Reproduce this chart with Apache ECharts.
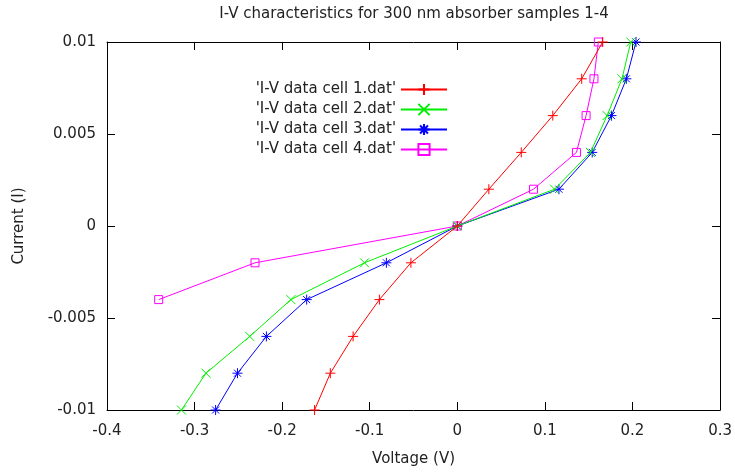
<!DOCTYPE html>
<html><head><meta charset="utf-8">
<script src="https://cdn.jsdelivr.net/npm/echarts@6/dist/echarts.min.js"></script>
<style>html,body{margin:0;padding:0;background:#fff}#c{width:735px;height:474px}</style>
</head><body><div id="c"></div>
<script>
const titleText = 'I-V characteristics for 300 nm absorber samples 1-4';
const seriesNames = ["'I-V data cell 1.dat'", "'I-V data cell 2.dat'", "'I-V data cell 3.dat'", "'I-V data cell 4.dat'"];
const current = [-0.01, -0.008, -0.006, -0.004, -0.002, 0, 0.002, 0.004, 0.006, 0.008, 0.01];
const current4 = [-0.004, -0.002, 0, 0.002, 0.004, 0.006, 0.008, 0.01];
const voltage1 = [-0.163, -0.145, -0.119, -0.089, -0.053, 0, 0.036, 0.073, 0.109, 0.142, 0.166];
const voltage2 = [-0.315, -0.287, -0.237, -0.190, -0.106, 0, 0.111, 0.152, 0.171, 0.188, 0.198];
const voltage3 = [-0.276, -0.251, -0.218, -0.172, -0.081, 0, 0.116, 0.154, 0.176, 0.193, 0.204];
const voltage4 = [-0.341, -0.231, 0, 0.087, 0.136, 0.147, 0.156, 0.161];
const colors = ['#ff0000', '#00ee00', '#0000ff', '#ff00ff'];

const symPlus = 'path://M0,5L10,5M5,0L5,10';
const symCross = 'path://M0,0L10,10M10,0L0,10';
const symStar = 'path://M0,5L10,5M5,0L5,10M1.5,1.5L8.5,8.5M8.5,1.5L1.5,8.5';

function pairs(xs, ys){ return xs.map((x,i)=>[x, ys[i]]); }
const font = '"DejaVu Sans", sans-serif';
const txt = '#222';
const fs = 15;

function mk(i, xs, ys, sym, size){
  return {
    name: seriesNames[i], type: 'line', data: pairs(xs, ys),
    symbol: sym, symbolSize: size, showSymbol: true,
    lineStyle: {color: colors[i], width: 1},
    itemStyle: {color: 'rgba(0,0,0,0)', borderColor: colors[i], borderWidth: 1},
    emphasis: {disabled: true}, animation: false, z: 10 - i
  };
}

const chart = echarts.init(document.getElementById('c'), null, {renderer: 'canvas'});
const axisCommon = {
  axisLine: {show: true, onZero: false, lineStyle: {color: '#000', width: 1}},
  axisTick: {show: true, inside: true, length: 8, lineStyle: {color: '#000'}},
  splitLine: {show: false}
};
chart.setOption({
  animation: false,
  backgroundColor: '#fff',
  title: {text: titleText, left: 409, textAlign: 'center', top: 2,
    textStyle: {fontFamily: font, fontSize: fs, fontWeight: 'normal', color: txt}},
  grid: {left: 107, right: 13, top: 42, bottom: 64},
  legend: {
    orient: 'vertical', right: 282, top: 77, align: 'right',
    itemWidth: 46, itemHeight: 14, itemGap: 5,
    textStyle: {fontFamily: font, fontSize: fs, color: txt},
    data: seriesNames
  },
  xAxis: [
    Object.assign({type: 'value', min: -0.4, max: 0.3, interval: 0.1, position: 'bottom',
      name: 'Voltage (V)', nameLocation: 'middle', nameGap: 42,
      nameTextStyle: {fontFamily: font, fontSize: fs, color: txt},
      axisLabel: {fontFamily: font, fontSize: fs, color: txt, margin: 14,
        formatter: v => String(Math.round(v*10)/10)}}, axisCommon),
    Object.assign({type: 'value', min: -0.4, max: 0.3, interval: 0.1, position: 'top',
      axisLabel: {show: false}}, axisCommon)
  ],
  yAxis: [
    Object.assign({type: 'value', min: -0.01, max: 0.01, interval: 0.005, position: 'left',
      name: 'Current (I)', nameLocation: 'middle', nameGap: 80, nameRotate: 90,
      nameTextStyle: {fontFamily: font, fontSize: fs, color: txt},
      axisLabel: {fontFamily: font, fontSize: fs, color: txt, margin: 11,
        formatter: v => String(Math.round(v*1000)/1000)}}, axisCommon),
    Object.assign({type: 'value', min: -0.01, max: 0.01, interval: 0.005, position: 'right',
      axisLabel: {show: false}}, axisCommon)
  ],
  series: [
    mk(0, voltage1, current, symPlus, 10),
    mk(1, voltage2, current, symCross, 9),
    mk(2, voltage3, current, symStar, 10),
    mk(3, voltage4, current4, 'path://M0,0L10,0L10,10L0,10Z', 8)
  ]
});
</script></body></html>
